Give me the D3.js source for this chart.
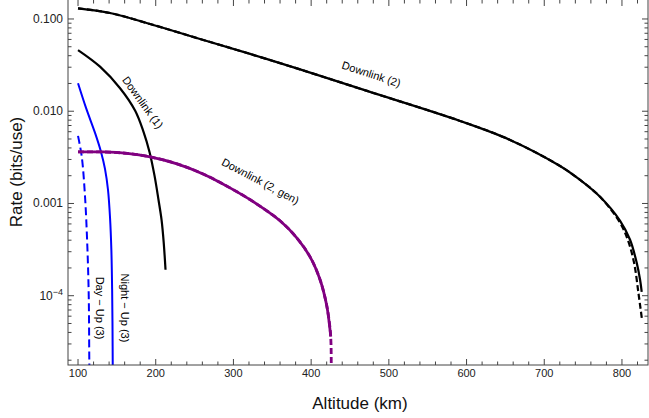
<!DOCTYPE html>
<html><head><meta charset="utf-8">
<script src="https://cdn.jsdelivr.net/npm/d3@7"></script>
<style>body{margin:0;background:#fff}text{font-family:"Liberation Sans",Arial,sans-serif}</style>
</head><body><svg id="c" width="649" height="418"></svg>
<script>
// ---- data (altitude km, rate bits/use) ----
const dl2Alt   = [100,141.2,192.7,257.0,321.4,385.7,471.9,591.6,656.0,720.3,746.1,771.8,797.6,810.4,819.0,823.3,825.4];
const dl2Rate  = [0.1306,0.1161,0.0883,0.0607,0.0418,0.0284,0.0166,0.00785,0.00489,0.00255,0.00180,0.00118,6.48e-4,4.04e-4,2.27e-4,1.49e-4,1.10e-4];
const dl2dAlt  = [100,141.2,192.7,257.0,321.4,385.7,471.9,591.6,656.0,720.3,746.1,771.8,797.6,807.9,815.6,821.2,825.5];
const dl2dRate = [0.1306,0.1161,0.0883,0.0607,0.0418,0.0284,0.0166,0.00785,0.00489,0.00255,0.00180,0.00118,6.17e-4,3.94e-4,2.27e-4,1.07e-4,5.75e-5];
const dl1Alt   = [100,128.3,154.1,173.4,184.3,192.0,198.5,203.6,207.5,210.3,212.6];
const dl1Rate  = [0.046,0.0304,0.01774,0.01016,0.00597,0.00362,0.00199,0.00109,6.64e-4,3.74e-4,1.91e-4];
const nightAlt = [100,110.3,121.9,129.6,134.7,138.6,141.2,142.9,143.9,144.4,144.7];
const nightRate= [0.0201,0.01086,0.00582,0.00362,0.00237,0.00140,6.98e-4,3.14e-4,1.16e-4,4.27e-5,1.57e-5];
const dayAlt   = [100,104.8,109.0,112.0,113.8,114.5,114.7];
const dayRate  = [0.0054,0.00322,0.00119,3.41e-4,9.80e-5,2.02e-5,1.57e-5];
const genAlt   = [100,132.2,163.1,192.7,227.4,260.9,295.6,327.8,360.0,381.5,398.6,411.5,420.1,424.3,425.2];
const genRate  = [0.00362,0.00362,0.00349,0.00320,0.00269,0.00209,0.001476,0.001016,6.49e-4,4.24e-4,2.64e-4,1.49e-4,7.78e-5,4.27e-5,3.61e-5];
const gendAlt  = [100,132.2,163.1,192.7,227.4,260.9,295.6,327.8,360.0,381.5,398.6,411.5,420.1,424.5,425.6,425.9];
const gendRate = [0.00362,0.00362,0.00349,0.00320,0.00269,0.00209,0.001476,0.001016,6.49e-4,4.24e-4,2.64e-4,1.49e-4,7.78e-5,4.27e-5,2.94e-5,1.57e-5];
const xTicks = [100,200,300,400,500,600,700,800];
const yTicks = [0.1,0.01,0.001,1e-4];
const yTickLabels = ["0.100","0.010","0.001","10^-4"];

// ---- layout ----
const L=68,R=648,T=0,B=365;
const svg=d3.select("#c");
const x=d3.scaleLinear().domain([87.1,833.5]).range([L,R]);
const y=d3.scaleLog().domain([1.774e-5,0.1606]).range([B,T]);

svg.append("defs").append("clipPath").attr("id","clip").append("rect")
  .attr("x",L).attr("y",T).attr("width",R-L).attr("height",B-T);

const g=svg.append("g").attr("clip-path","url(#clip)");
const line=d3.line().x(d=>x(d[0])).y(d=>y(d[1])).curve(d3.curveCatmullRom.alpha(0.5));
function draw(a,r,color,w,dash){
  g.append("path").datum(a.map((v,i)=>[v,r[i]]))
   .attr("d",line).attr("fill","none").attr("stroke",color)
   .attr("stroke-width",w).attr("stroke-dasharray",dash||null);
}
draw(dl2Alt,dl2Rate,"#000",2.2);
draw(dl2dAlt,dl2dRate,"#000",2.2,"6,3");
draw(dl1Alt,dl1Rate,"#000",2.2);
draw(nightAlt,nightRate,"#0000ff",2);
draw(dayAlt,dayRate,"#0000ff",2,"8,4");
draw(genAlt,genRate,"#800080",2.8);
draw(gendAlt,gendRate,"#800080",2.8,"6,3");

// ---- frame and ticks ----
const fc="#444";
const ax=svg.append("g").attr("stroke",fc).attr("fill","none");
ax.append("rect").attr("x",L).attr("y",T-1).attr("width",R-L).attr("height",B-T+1).attr("stroke-width",1);
const minorX=d3.range(100,834,20);
minorX.forEach(v=>{
  const major=v%100===0, len=major?6:3.5, px=x(v);
  ax.append("line").attr("x1",px).attr("x2",px).attr("y1",B).attr("y2",B-len);
  ax.append("line").attr("x1",px).attr("x2",px).attr("y1",T).attr("y2",T+len);
});
const yMinor=[];
[1e-5,1e-4,1e-3,1e-2,1e-1].forEach(d=>{for(let k=1;k<10;k++){const v=d*k; if(v>=1.774e-5&&v<=0.1606) yMinor.push([v,k===1]);}});
yMinor.forEach(([v,major])=>{
  const len=major?6:3.5, py=y(v);
  ax.append("line").attr("x1",L).attr("x2",L+len).attr("y1",py).attr("y2",py);
  ax.append("line").attr("x1",R).attr("x2",R-len).attr("y1",py).attr("y2",py);
});

// tick labels
xTicks.forEach(v=>{
  svg.append("text").attr("x",x(v)).attr("y",377).attr("text-anchor","middle")
   .attr("font-size",11).attr("fill","#222").text(v);
});
yTicks.forEach((v,i)=>{
  const t=svg.append("text").attr("x",63).attr("y",y(v)+4).attr("text-anchor","end")
   .attr("font-size",12).attr("fill","#222");
  const s=yTickLabels[i];
  if(s.includes("^")){
    const [b,e]=s.split("^");
    t.append("tspan").text(b);
    t.append("tspan").attr("font-size",9).attr("dy",-5).text(e.replace("-","\u2212"));
  } else t.text(s);
});

// axis titles
svg.append("text").attr("x",360).attr("y",409).attr("text-anchor","middle")
  .attr("font-size",17).attr("fill","#111").text("Altitude (km)");
svg.append("text").attr("transform","translate(22,172) rotate(-90)").attr("text-anchor","middle")
  .attr("font-size",17).attr("fill","#111").text("Rate (bits/use)");

// curve labels
function lab(txt,cx,cy,ang){
  svg.append("text").attr("transform",`translate(${cx},${cy}) rotate(${ang})`)
   .attr("text-anchor","middle").attr("dominant-baseline","middle")
   .attr("font-size",11).attr("fill","#000").text(txt);
}
lab("Downlink (2)",371,75,18);
lab("Downlink (1)",142,103,54);
lab("Downlink (2, gen)",260,182,28);
lab("Night \u2212 Up (3)",124,308,90);
lab("Day \u2212 Up (3)",99,308,90);
</script></body></html>
